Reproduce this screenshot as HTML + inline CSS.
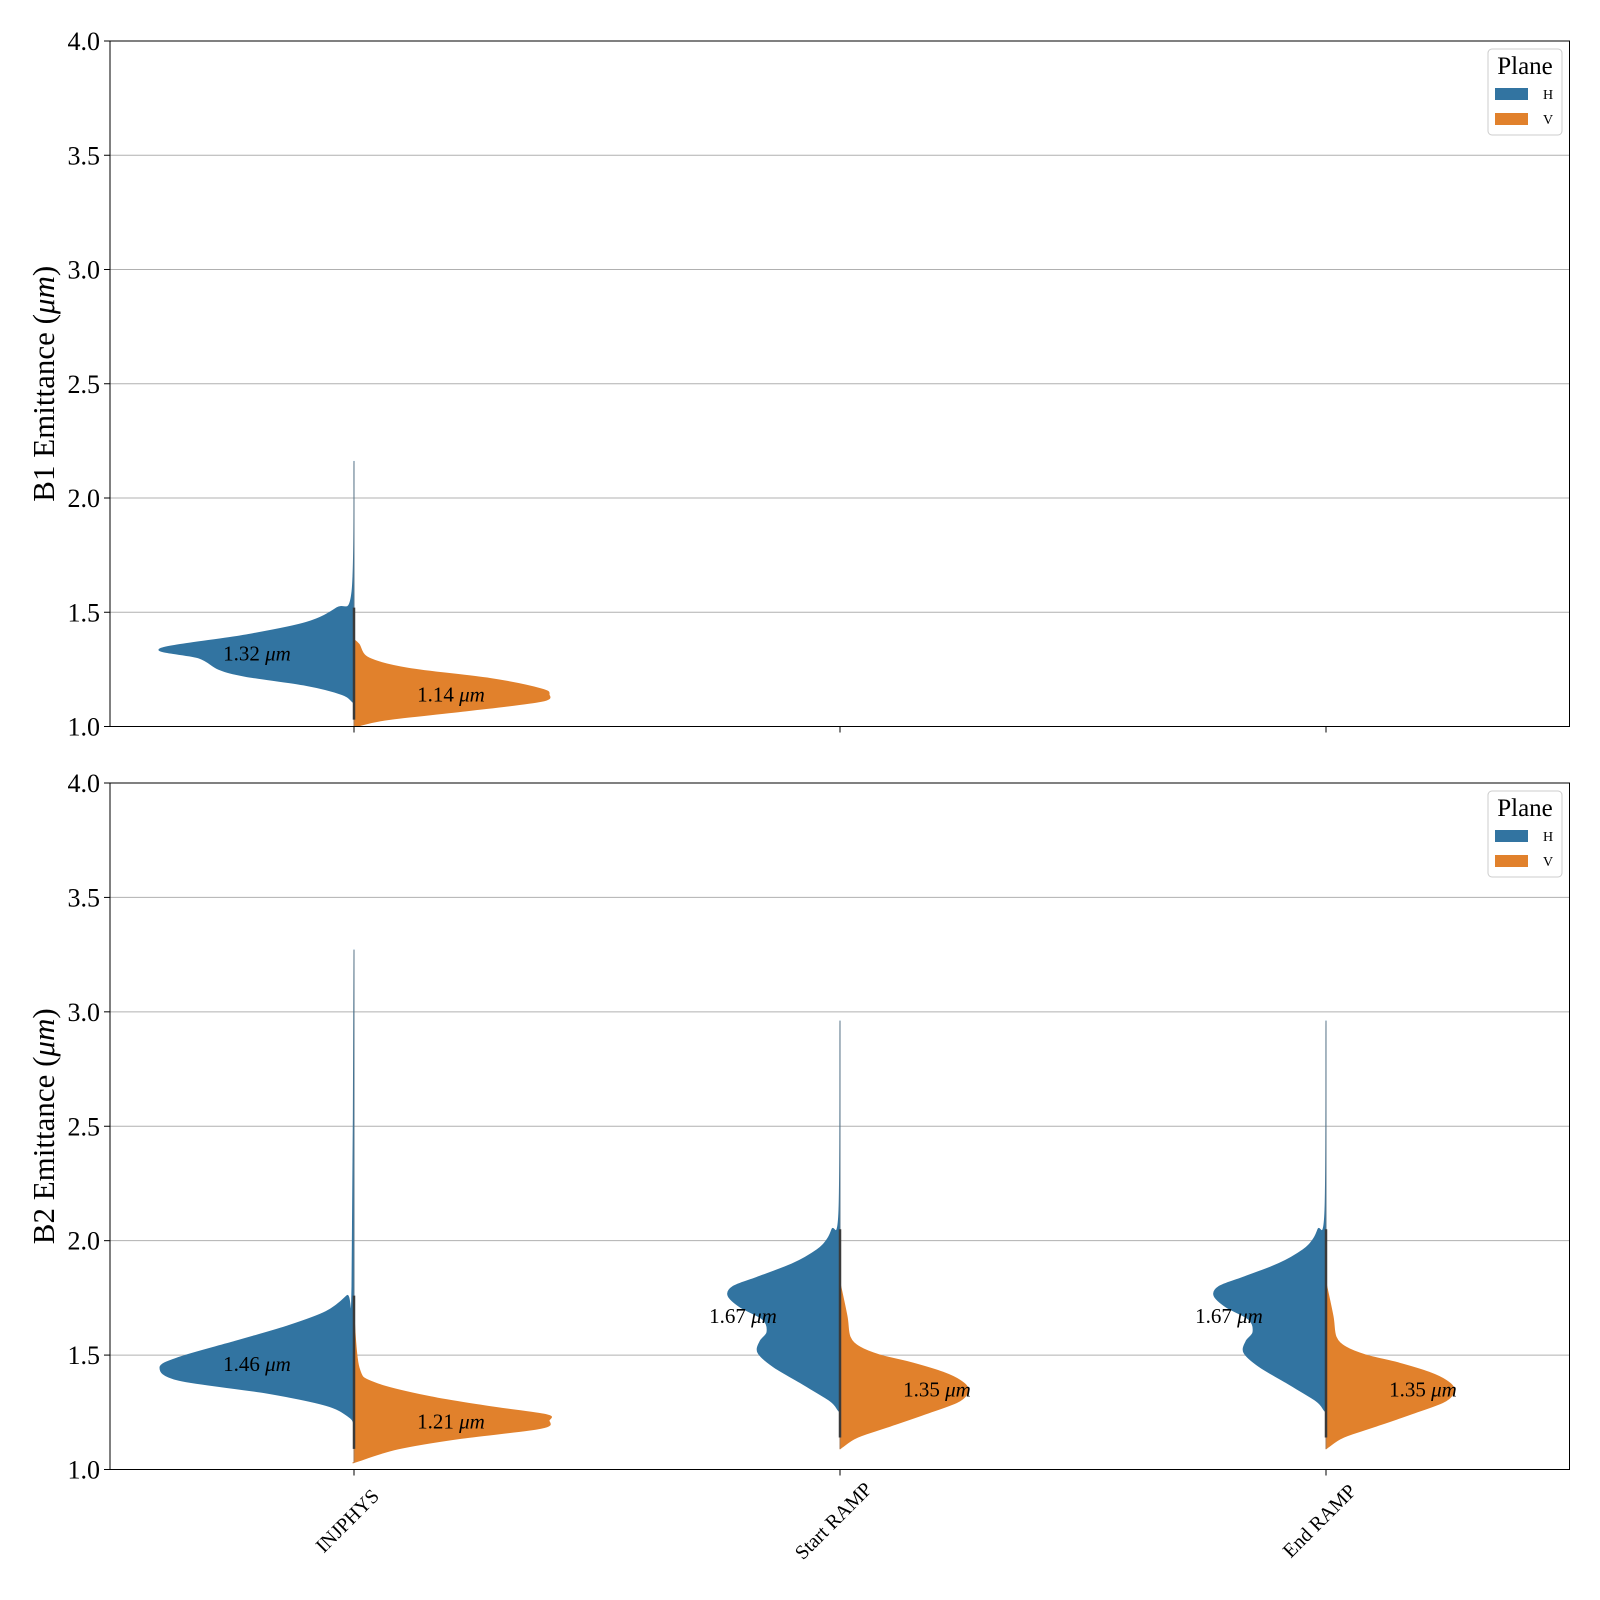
<!DOCTYPE html>
<html><head><meta charset="utf-8"><style>
html,body{margin:0;padding:0;background:#fff}
svg{display:block;font-family:"Liberation Serif",serif}
</style></head><body>
<svg id="chart" width="1600" height="1600" viewBox="0 0 1600 1600" xmlns="http://www.w3.org/2000/svg"></svg>
<script>
const categories = ["INJPHYS", "Start RAMP", "End RAMP"];
const yTicks = [1.0, 1.5, 2.0, 2.5, 3.0, 3.5, 4.0];
// profiles: [value, density] pairs
const b1H_inj = [[2.16,0],[1.59,2],[1.52,17],[1.455,48],[1.40,109],[1.34,194],[1.30,155],[1.25,135],[1.22,109],[1.18,48],[1.14,12],[1.11,2],[1.10,0]];
const b1V_inj = [[1.38,0],[1.36,5],[1.30,15],[1.255,54],[1.21,136],[1.165,187],[1.14,195],[1.11,187],[1.07,115],[1.03,34],[1.0,2]];
const b2H_inj = [[3.27,0],[1.80,2],[1.76,7],[1.69,28],[1.625,68],[1.56,119],[1.49,175],[1.445,194],[1.39,175],[1.335,89],[1.28,28],[1.23,5],[1.20,0]];
const b2V_inj = [[1.67,0],[1.445,5],[1.38,20],[1.32,74],[1.275,136],[1.24,192],[1.215,195],[1.18,187],[1.135,105],[1.09,44],[1.035,3],[1.03,0]];
const b2H_ramp = [[2.96,0],[2.135,1],[2.05,8],[2.005,13],[1.96,23],[1.90,47],[1.84,83],[1.80,107],[1.76,112],[1.71,100],[1.655,77],[1.60,73],[1.56,80],[1.51,82],[1.45,67],[1.38,40],[1.30,10],[1.26,2],[1.25,0]];
const b2V_ramp = [[1.815,0],[1.67,7],[1.58,10],[1.535,20],[1.50,40],[1.465,73],[1.425,103],[1.39,120],[1.35,128],[1.30,120],[1.245,87],[1.185,47],[1.14,17],[1.10,3],[1.09,0]];
const b1Means = [[1.32,1.14]];
const b2Means = [[1.46,1.21],[1.67,1.35],[1.67,1.35]];

const NS="http://www.w3.org/2000/svg";
const svg=document.getElementById('chart');
function mk(tag,attrs,parent){const e=document.createElementNS(NS,tag);for(const k in attrs)e.setAttribute(k,attrs[k]);(parent||svg).appendChild(e);return e;}
const X0=110,X1=1569.5;
const centers=[354,840,1326];
function xPos(i){return centers[i];}
function smoothPath(pts){
  let d='M'+pts[0][0].toFixed(1)+','+pts[0][1].toFixed(1);
  for(let i=0;i<pts.length-1;i++){
    const p0=pts[Math.max(0,i-1)],p1=pts[i],p2=pts[i+1],p3=pts[Math.min(pts.length-1,i+2)];
    const c1=[p1[0]+(p2[0]-p0[0])/6,p1[1]+(p2[1]-p0[1])/6];
    const c2=[p2[0]-(p3[0]-p1[0])/6,p2[1]-(p3[1]-p1[1])/6];
    d+=` C${c1[0].toFixed(1)},${c1[1].toFixed(1)} ${c2[0].toFixed(1)},${c2[1].toFixed(1)} ${p2[0].toFixed(1)},${p2[1].toFixed(1)}`;
  }
  return d;
}

function panel(top,bottom,label,violins,means,showX,pname){
  const g=mk('g',{});
  
  
  const y=v=>bottom-(v-1)/(4-1)*(bottom-top);
  yTicks.forEach(t=>{
    if(t>1&&t<4){const gl=mk('line',{x1:X0,x2:X1,y1:y(t),y2:y(t),stroke:'#b0b0b0','stroke-width':1},g);
    }
    mk('line',{x1:X0-6,x2:X0,y1:y(t),y2:y(t),stroke:'#000','stroke-width':1},g);
    const tl=mk('text',{x:X0-10,y:y(t)+9,'text-anchor':'end','font-size':26},g);
    tl.textContent=t.toFixed(1);
    
  });
  violins.forEach(vv=>{
    const cx=xPos(vv.cat);
    const sign=vv.side==='H'?-1:1;
    const prof=vv.data;
    const pts=prof.map(p=>[cx+sign*p[1],y(p[0])]);
    let d=smoothPath(pts)+' L'+cx+','+y(prof[prof.length-1][0])+' L'+cx+','+y(prof[0][0])+' Z';
    const col=vv.side==='H'?'#3274a1':'#e1812c';
    const p=mk('path',{d:d,fill:col,stroke:col,'stroke-width':1,'stroke-linejoin':'round'},g);
    
    
  });
  const cats={};
  violins.forEach(vv=>{const vals=vv.data.map(p=>p[0]);const c=cats[vv.cat]||{mx:-1e9,mn:1e9,dm:-1e9,dn:1e9};
    c.mx=Math.max(c.mx,...vals);c.mn=Math.min(c.mn,...vals);
    const dense=vv.data.filter(p=>p[1]>4).map(p=>p[0]);c.dm=Math.max(c.dm,...dense);c.dn=Math.min(c.dn,...dense);cats[vv.cat]=c;});
  for(const k in cats){const c=cats[k],cx=xPos(+k);
    mk('line',{x1:cx,x2:cx,y1:y(c.mx),y2:y(c.mn),stroke:'#777','stroke-width':0.6},g);
    const s=mk('line',{x1:cx,x2:cx,y1:y(c.dm),y2:y(c.dn),stroke:'#3a3a3a','stroke-width':2.5},g);
    }
  means.forEach((m,i)=>{
    [[m[0],-97],[m[1],97]].forEach(([v,off])=>{
      const t=mk('text',{x:xPos(i)+off,y:y(v)+7,'text-anchor':'middle','font-size':21},g);
      t.innerHTML=v.toFixed(2)+' <tspan font-style="italic">μm</tspan>';
      
    });
  });
  const fr=mk('rect',{x:X0,y:top,width:X1-X0,height:bottom-top,fill:'none',stroke:'#000','stroke-width':1},g);
  
  centers.forEach((cx,i)=>{
    mk('line',{x1:cx,x2:cx,y1:bottom,y2:bottom+6,stroke:'#000','stroke-width':1},g);
    if(showX){const t=mk('text',{x:0,y:0,'text-anchor':'middle','font-size':20,transform:`translate(${cx-2},${bottom+56}) rotate(-45)`},g);
      t.textContent=categories[i];}
  });
  const yl=mk('text',{x:0,y:0,'text-anchor':'middle','font-size':31,transform:`translate(54,${(top+bottom)/2}) rotate(-90)`},g);
  yl.innerHTML=label+' Emittance (<tspan font-style="italic">μm</tspan>)';
  
  const lg=mk('g',{},g);
  
  mk('rect',{x:1488,y:top+8,width:74,height:86,rx:4,fill:'#fff',stroke:'#ccc','stroke-width':1},lg);
  const lt=mk('text',{x:1525,y:top+33,'text-anchor':'middle','font-size':25},lg);lt.textContent='Plane';
  mk('rect',{x:1495,y:top+47,width:33,height:12,fill:'#3274a1'},lg);
  mk('rect',{x:1495,y:top+72,width:33,height:12,fill:'#e1812c'},lg);
  const l1=mk('text',{x:1543,y:top+58,'font-size':14},lg);l1.textContent='H';
  const l2=mk('text',{x:1543,y:top+83,'font-size':14},lg);l2.textContent='V';
}
panel(41,726.5,'B1',[{cat:0,side:'H',data:b1H_inj},{cat:0,side:'V',data:b1V_inj}],b1Means,false,'top-panel');
panel(783,1469.5,'B2',[{cat:0,side:'H',data:b2H_inj},{cat:0,side:'V',data:b2V_inj},{cat:1,side:'H',data:b2H_ramp},{cat:1,side:'V',data:b2V_ramp},{cat:2,side:'H',data:b2H_ramp},{cat:2,side:'V',data:b2V_ramp}],b2Means,true,'bottom-panel');
</script>
</body></html>
